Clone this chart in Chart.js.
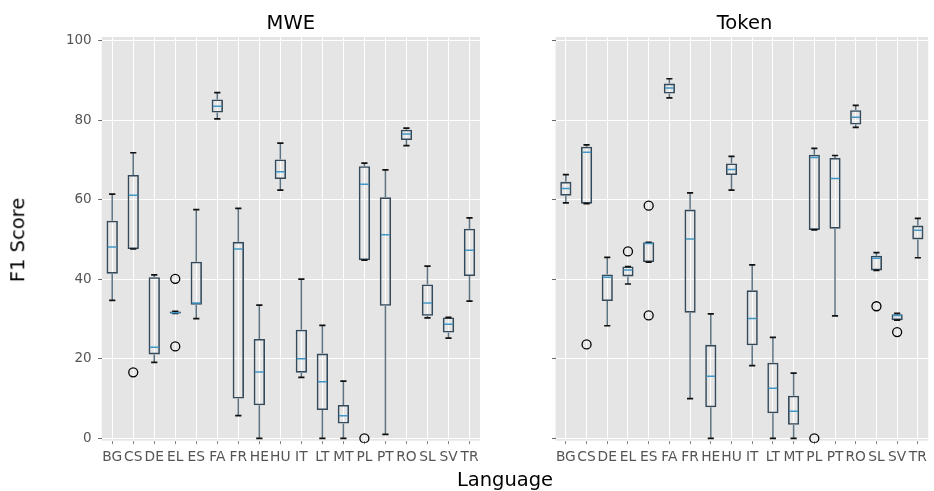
<!DOCTYPE html>
<html>
<head>
<meta charset="utf-8">
<script src="https://cdn.jsdelivr.net/npm/chart.js@4.4.1/dist/chart.umd.min.js"></script>
<style>
  html, body { margin: 0; padding: 0; background: #fff; }
  #wrap { position: relative; width: 934px; height: 491px; overflow: hidden; font-family: "DejaVu Sans", sans-serif; }
  canvas { position: absolute; top: 0; }
  .lbl { position: absolute; font-size: 19.5px; line-height: 19.5px; color: #000; white-space: nowrap; }
</style>
</head>
<body>
<div id="wrap">
  <canvas id="mwe" width="492" height="491" style="left:0"></canvas>
  <canvas id="token" width="444" height="491" style="left:490px"></canvas>
  <div class="lbl" style="left:290.8px;top:12.5px;transform:translateX(-50%)">MWE</div>
  <div class="lbl" style="left:744.5px;top:12.5px;transform:translateX(-50%)">Token</div>
  <div class="lbl" style="left:505px;top:470px;transform:translateX(-50%)">Language</div>
  <div class="lbl" style="left:18px;top:240px;transform:translate(-50%,-50%) rotate(-90deg)">F1 Score</div>
</div>
<script>
const LANGS = ["BG", "CS", "DE", "EL", "ES", "FA", "FR", "HE", "HU", "IT", "LT", "MT", "PL", "PT", "RO", "SL", "SV", "TR"];
const Y_TICKS = [0, 20, 40, 60, 80, 100];

// MWE panel: whisker low, Q1, median, Q3, whisker high, outliers
const MWE_LOW  = [34.7, 47.6, 19.1, 31.4, 30.1, 80.3, 5.7, 0, 62.4, 15.3, 0, 0, 44.8, 1.0, 73.6, 30.3, 25.2, 34.5];
const MWE_Q1   = [41.4, 47.6, 21.1, 31.4, 33.6, 81.9, 10.0, 8.3, 65.2, 16.5, 7.1, 3.7, 44.8, 33.3, 75.0, 30.8, 26.6, 40.8];
const MWE_MED  = [48.1, 61.1, 22.9, 31.6, 34.0, 83.5, 47.6, 16.7, 67.0, 20.0, 14.2, 5.7, 63.9, 51.2, 76.5, 34.0, 28.7, 47.3];
const MWE_Q3   = [54.7, 66.2, 40.5, 31.9, 44.4, 85.2, 49.4, 25.0, 70.1, 27.3, 21.3, 8.4, 68.4, 60.6, 77.6, 38.7, 30.4, 52.7];
const MWE_HIGH = [61.4, 71.8, 41.1, 31.9, 57.5, 86.9, 57.8, 33.5, 74.2, 40.0, 28.4, 14.4, 69.2, 67.5, 78.0, 43.3, 30.4, 55.4];
const MWE_OUT  = [["CS", 16.6], ["EL", 40.1], ["EL", 23.1], ["PL", 0]];

// Token panel
const TOK_LOW  = [59.2, 59.0, 28.3, 38.8, 44.3, 85.6, 10.0, 0, 62.4, 18.3, 0, 0, 52.4, 30.8, 78.2, 42.2, 29.7, 45.4];
const TOK_Q1   = [61.0, 59.0, 34.5, 40.7, 44.3, 86.7, 31.6, 7.8, 66.2, 23.4, 6.3, 3.4, 52.4, 52.7, 78.9, 42.2, 29.7, 50.0];
const TOK_MED  = [62.8, 71.9, 40.5, 42.3, 49.0, 88.1, 50.1, 15.6, 67.6, 30.1, 12.6, 6.8, 70.6, 65.3, 80.7, 45.3, 30.9, 52.3];
const TOK_Q3   = [64.5, 73.3, 41.2, 43.2, 49.3, 89.2, 57.5, 23.5, 69.1, 37.2, 19.0, 10.7, 71.3, 70.5, 82.5, 45.9, 31.2, 53.5];
const TOK_HIGH = [66.3, 73.8, 45.5, 43.2, 49.3, 90.4, 61.7, 31.3, 70.9, 43.6, 25.4, 16.4, 72.9, 71.1, 83.7, 46.7, 31.4, 55.3];
const TOK_OUT  = [["CS", 23.6], ["EL", 47.0], ["ES", 58.5], ["ES", 30.9], ["PL", 0], ["SL", 33.2], ["SV", 26.7]];

const BOX_COLOR = "#34495a";
const WHISKER_COLOR = "#5e7483";
const MEDIAN_COLOR = "#4197c6";
const CAP_COLOR = "#111111";

// gray panel behind the grid
const panelBg = {
  id: "panelBg",
  beforeDraw(chart) {
    const a = chart.chartArea, ctx = chart.ctx;
    ctx.save();
    ctx.fillStyle = "#e5e5e5";
    ctx.fillRect(a.left, a.top, a.right - a.left, a.bottom - a.top);
    ctx.restore();
  },
};

// whiskers, caps and medians, placed with the chart's own scales
const boxParts = {
  id: "boxParts",
  afterDatasetsDraw(chart, args, opts) {
    const ctx = chart.ctx;
    const xs = chart.scales.x, ys = chart.scales.y;
    const bars = chart.getDatasetMeta(0).data;
    ctx.save();
    ctx.beginPath();
    ctx.rect(chart.chartArea.left, chart.chartArea.top, chart.chartArea.width, chart.chartArea.height + 3);
    ctx.clip();
    LANGS.forEach((l, i) => {
      const x = xs.getPixelForValue(i);
      const w = bars[i].width;
      const cap = w * 0.55;
      ctx.lineWidth = 1.5;
      ctx.strokeStyle = WHISKER_COLOR;
      ctx.beginPath();
      ctx.moveTo(x, ys.getPixelForValue(opts.q3[i]));
      ctx.lineTo(x, ys.getPixelForValue(opts.high[i]));
      ctx.moveTo(x, ys.getPixelForValue(opts.q1[i]));
      ctx.lineTo(x, ys.getPixelForValue(opts.low[i]));
      ctx.stroke();
      ctx.lineWidth = 1.7;
      ctx.strokeStyle = CAP_COLOR;
      ctx.beginPath();
      for (const v of [opts.high[i], opts.low[i]]) {
        const y = ys.getPixelForValue(v);
        ctx.moveTo(x - cap / 2, y);
        ctx.lineTo(x + cap / 2, y);
      }
      ctx.stroke();
      ctx.lineWidth = 1.5;
      ctx.strokeStyle = MEDIAN_COLOR;
      ctx.beginPath();
      const ym = ys.getPixelForValue(opts.med[i]);
      ctx.moveTo(x - w / 2 + 1.2, ym);
      ctx.lineTo(x + w / 2 - 1.2, ym);
      ctx.stroke();
    });
    ctx.restore();
  },
};

function makePanel(id, low, q1, med, q3, high, out, yWidth, padRight, showYLabels) {
  return new Chart(document.getElementById(id), {
    type: "bar",
    data: {
      labels: LANGS,
      datasets: [
        {
          data: LANGS.map((l, i) => [q1[i], q3[i]]),
          backgroundColor: "rgba(0,0,0,0)",
          borderColor: BOX_COLOR,
          borderWidth: 1.6,
          borderSkipped: false,
          barPercentage: 0.54,
          categoryPercentage: 1,
        },
        {
          type: "line",
          data: out.map((o) => ({ x: o[0], y: o[1] })),
          showLine: false,
          pointStyle: "circle",
          pointRadius: 4.5,
          pointBorderWidth: 1.3,
          pointBorderColor: "#000",
          pointBackgroundColor: "rgba(0,0,0,0)",
          clip: { left: 0, right: 0, top: 0, bottom: 2 },
        },
      ],
    },
    options: {
      responsive: false,
      animation: false,
      devicePixelRatio: 1,
      layout: { padding: { top: 37, right: padRight, bottom: 0, left: 0 } },
      plugins: {
        legend: { display: false },
        tooltip: { enabled: false },
        boxParts: { low, q1, med, q3, high },
      },
      scales: {
        x: {
          offset: true,
          grid: { offset: false, color: "#ffffff", lineWidth: 1, tickColor: "#888", tickLength: 3.5, drawTicks: true },
          border: { display: false },
          ticks: {
            autoSkip: false, maxRotation: 0, minRotation: 0, padding: 5,
            color: "#555", font: { family: "DejaVu Sans", size: 13.8 },
          },
          afterFit: (s) => { s.height = 50.3; },
        },
        y: {
          min: -0.6,
          max: 100.9,
          afterBuildTicks: (s) => { s.ticks = Y_TICKS.map((v) => ({ value: v })); },
          grid: { color: "#ffffff", lineWidth: 1, tickColor: "#666", tickLength: 3.5, drawTicks: true },
          border: { display: false },
          ticks: {
            padding: 6.5,
            color: "#555",
            font: { family: "DejaVu Sans", size: 13.5 },
            callback: (v) => (showYLabels ? String(v) : ""),
          },
          afterFit: (s) => { s.width = yWidth; },
        },
      },
    },
    plugins: [panelBg, boxParts],
  });
}

makePanel("mwe", MWE_LOW, MWE_Q1, MWE_MED, MWE_Q3, MWE_HIGH, MWE_OUT, 101.7, 12, true);
makePanel("token", TOK_LOW, TOK_Q1, TOK_MED, TOK_Q3, TOK_HIGH, TOK_OUT, 65.5, 0.5, false);
</script>
</body>
</html>
